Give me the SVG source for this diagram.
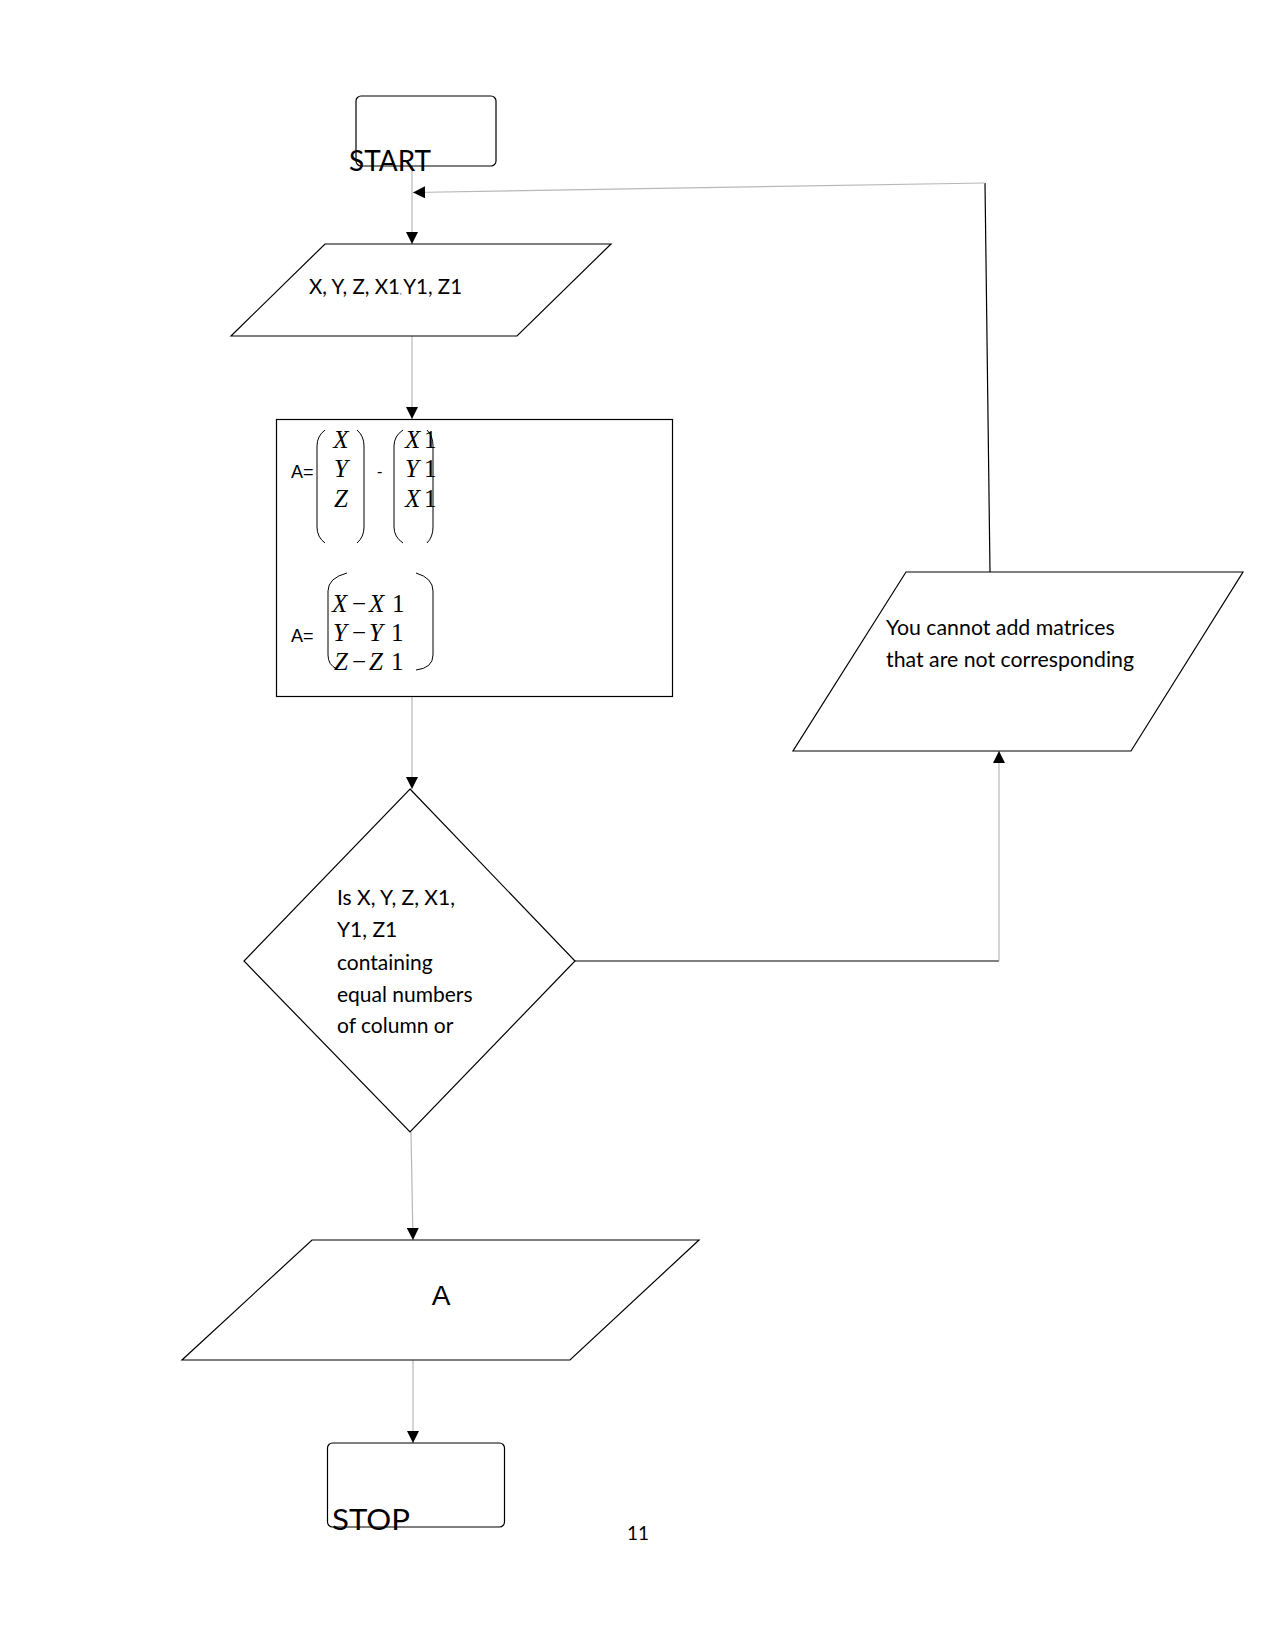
<svg xmlns="http://www.w3.org/2000/svg" width="1275" height="1650" viewBox="0 0 1275 1650">
<style>
.shape{fill:#fff;stroke:#000;stroke-width:1.2}
.conn{fill:none;stroke:#b8b8b8;stroke-width:1.2}
.connd{fill:none;stroke:#000;stroke-width:1.2}
.lbl{font-family:Lato,"Open Sans",sans-serif;fill:#000}
.ar{font-family:"Liberation Sans",Arial,sans-serif;fill:#000}
.m{font-family:"Liberation Serif","Times New Roman",serif;font-size:25px;fill:#000}
.mi{font-style:italic}
.par{fill:none;stroke:#000;stroke-width:1}
</style>
<defs>
<marker id="arr" viewBox="0 0 12 12" refX="12" refY="6" markerWidth="12" markerHeight="12" markerUnits="userSpaceOnUse" orient="auto">
<path d="M0,0 L12,6 L0,12 z" fill="#000"/>
</marker>
</defs>
<rect width="1275" height="1650" fill="#fff"/>
<g id="connectors">
<path class="conn" d="M412 166 L412 244" marker-end="url(#arr)"/>
<path class="conn" d="M412 336 L412 419" marker-end="url(#arr)"/>
<path class="conn" d="M412 696 L412 789" marker-end="url(#arr)"/>
<path class="conn" d="M411 1132 L413 1240" marker-end="url(#arr)"/>
<path class="conn" d="M413 1360 L413 1443" marker-end="url(#arr)"/>
<path class="connd" d="M575 961 L999 961"/>
<path class="conn" d="M999 961 L999 751" marker-end="url(#arr)"/>
<path class="connd" d="M990 572 L985 183"/>
<path class="conn" d="M985 183 L413 192.5" marker-end="url(#arr)"/>
</g>
<g id="start">
<rect class="shape" x="356" y="96" width="140" height="70" rx="5"/>
<text class="lbl" x="349" y="171" font-size="29" textLength="82" lengthAdjust="spacingAndGlyphs">START</text>
</g>
<g id="input">
<polygon class="shape" points="325,244 611,244 517,336 231,336"/>
<text class="lbl" x="309" y="294" font-size="20.5">X, Y, Z, X1<tspan font-size="7">,  </tspan>Y1, Z1</text>
</g>
<g id="process">
<rect class="shape" x="276.5" y="419.5" width="396" height="277"/>
<text class="ar" x="291" y="478" font-size="18">A=</text>
<path class="par" d="M325 430 Q317 436 317 446 L317 527 Q317 537 325 543"/>
<path class="par" d="M357 430 Q364 436 364 446 L364 527 Q364 537 357 543"/>
<text class="m mi" x="341" y="448" text-anchor="middle">X</text>
<text class="m mi" x="341" y="477" text-anchor="middle">Y</text>
<text class="m mi" x="341" y="507" text-anchor="middle">Z</text>
<text class="ar" x="377" y="477" font-size="16">-</text>
<path class="par" d="M403 430 Q394 436 394 446 L394 527 Q394 537 403 543"/>
<path class="par" d="M427 430 Q433 436 433 446 L433 527 Q433 537 427 543"/>
<text class="m" y="448"><tspan class="mi" x="405">X</tspan><tspan x="424">1</tspan></text>
<text class="m" y="477"><tspan class="mi" x="405">Y</tspan><tspan x="424">1</tspan></text>
<text class="m" y="507"><tspan class="mi" x="405">X</tspan><tspan x="424">1</tspan></text>
<text class="ar" x="291" y="642" font-size="18">A=</text>
<path class="par" d="M347 573 Q328 578 328 591 L328 655 Q328 665 337 669"/>
<path class="par" d="M416 573 Q433 578 433 591 L433 655 Q433 668 416 670"/>
<text class="m" y="612" font-size="24"><tspan class="mi" x="332">X</tspan><tspan x="352">−</tspan><tspan class="mi" x="369">X</tspan><tspan x="392">1</tspan></text>
<text class="m" y="641" font-size="24"><tspan class="mi" x="333">Y</tspan><tspan x="352">−</tspan><tspan class="mi" x="369">Y</tspan><tspan x="391">1</tspan></text>
<text class="m" y="670" font-size="24"><tspan class="mi" x="334">Z</tspan><tspan x="352">−</tspan><tspan class="mi" x="369">Z</tspan><tspan x="391">1</tspan></text>
</g>
<g id="decision">
<polygon class="shape" points="410,789 575,961 410,1132 244,961"/>
<text class="lbl" font-size="21"><tspan x="337" y="905">Is X, Y, Z, X1,</tspan><tspan x="337" y="937">Y1, Z1</tspan><tspan x="337" y="970">containing</tspan><tspan x="337" y="1002">equal numbers</tspan><tspan x="337" y="1033">of column or</tspan></text>
</g>
<g id="error">
<polygon class="shape" points="906,572 1243,572 1131,751 793,751"/>
<text class="lbl" font-size="21.3"><tspan x="886" y="635">You cannot add matrices</tspan><tspan x="886" y="667">that are not corresponding</tspan></text>
</g>
<g id="output">
<polygon class="shape" points="312,1240 699,1240 570,1360 182,1360"/>
<text class="ar" x="441" y="1305" font-size="28" text-anchor="middle">A</text>
</g>
<g id="stop">
<rect class="shape" x="327.5" y="1443" width="177" height="84" rx="5"/>
<text class="lbl" x="332" y="1530" font-size="29" textLength="78" lengthAdjust="spacingAndGlyphs">STOP</text>
</g>
<text class="lbl" x="627" y="1540" font-size="19">11</text>
</svg>
